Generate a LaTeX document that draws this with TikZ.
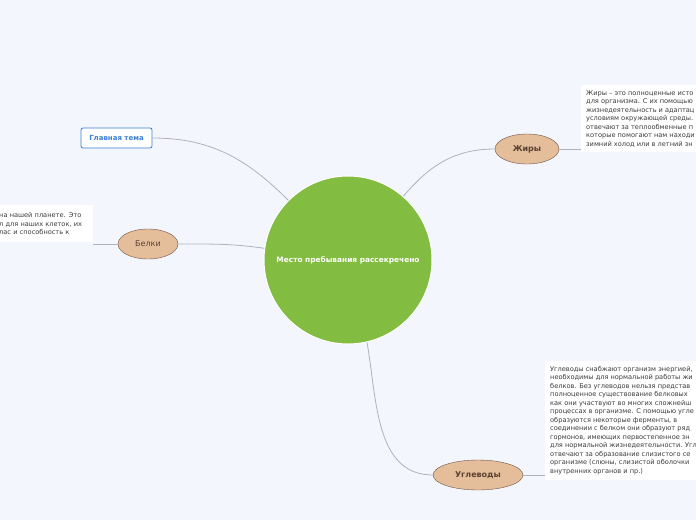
\documentclass[tikz,border=0pt]{standalone}
\usepackage{fontspec}
\setmainfont{DejaVu Sans}
\usetikzlibrary{shapes.geometric,positioning}

\definecolor{bgcol}{HTML}{F4F6FE}
\definecolor{leafgreen}{HTML}{82BC41}
\definecolor{tanfill}{HTML}{E4BD9A}
\definecolor{tanline}{HTML}{6E5444}
\definecolor{tantext}{HTML}{5A4232}
\definecolor{linkgray}{HTML}{AEB2BF}
\definecolor{topicblue}{HTML}{3A7FD5}
\definecolor{notetext}{HTML}{3A3A3A}

\begin{document}
\begin{tikzpicture}[x=1pt, y=-1pt,
  topicnode/.style={ellipse, draw=tanline, fill=tanfill, text=tantext, minimum height=30pt, inner sep=0pt, font=\fontsize{8}{9}\selectfont},
  notebox/.style={rectangle, fill=white, draw=none, align=left, inner sep=5pt, text=notetext, font=\fontsize{6.6}{8.5}\selectfont},
  link/.style={draw=linkgray, line width=0.8pt},
]
\clip (0,0) rectangle (696,520);
\fill[bgcol] (0,0) rectangle (696,520);

% === Central idea ===
\node[circle, fill=leafgreen, draw=white, line width=1pt, minimum size=168pt, inner sep=0pt,
      text=white, font=\bfseries\fontsize{7.4}{8}\selectfont] (center) at (348,260) {Место пребывания рассекречено};

% === Main topic ===
\node[rectangle, rounded corners=2pt, draw=topicblue, fill=white, text=topicblue, line width=0.8pt,
      minimum width=71pt, minimum height=20pt, font=\bfseries\fontsize{7}{8}\selectfont] (topic) at (116.5,138) {Главная тема};

% === Branches ===
\node[topicnode, minimum width=64pt, font=\bfseries\fontsize{8}{9}\selectfont] (fats) at (527,149) {Жиры};
\node[topicnode, minimum width=60pt] (proteins) at (148,244) {Белки};
\node[topicnode, minimum width=90pt, font=\bfseries\fontsize{8}{9}\selectfont] (carbs) at (478,475) {Углеводы};

% === Notes ===
\node[notebox, anchor=north west, minimum height=64pt] (fatsnote) at (581,85)
  {Жиры – это полноценные исто\\
   для организма. С их помощью\\
   жизнедеятельность и адаптац\\
   условиям окружающей среды.\\
   отвечают за теплообменные п\\
   которые помогают нам находи\\
   зимний холод или в летний зн};

\node[notebox, anchor=north west, text width=89pt, minimum height=37pt] (protnote) at (-6,205)
  {на нашей планете. Это\\
   л для наших клеток, их\\
   лас и способность к};

\node[notebox, anchor=north west, minimum height=118pt] (carbnote) at (545,361)
  {Углеводы снабжают организм энергией,\\
   необходимы для нормальной работы жи\\
   белков. Без углеводов нельзя представ\\
   полноценное существование белковых\\
   как они участвуют во многих сложнейш\\
   процессах в организме. С помощью угле\\
   образуются некоторые ферменты, в\\
   соединении с белком они образуют ряд\\
   гормонов, имеющих первостепенное зн\\
   для нормальной жизнедеятельности. Угл\\
   отвечают за образование слизистого се\\
   организме (слюны, слизистой оболочки\\
   внутренних органов и пр.)};

% === Links ===
\draw[link] (topic.east) to[out=0, in=135] (center.135);
\draw[link] (center.49) to[out=50, in=180] (fats.west);
\draw[link] (proteins.east) to[out=0, in=172] (center.172);
\draw[link] (center.-77) to[out=-80, in=180] (carbs.west);

\draw[link] (fats.east) -- (fats.east -| fatsnote.west);
\draw[link] (proteins.west) -- (proteins.west -| protnote.east);
\draw[link] (carbs.east) -- (carbs.east -| carbnote.west);

\end{tikzpicture}
\end{document}
